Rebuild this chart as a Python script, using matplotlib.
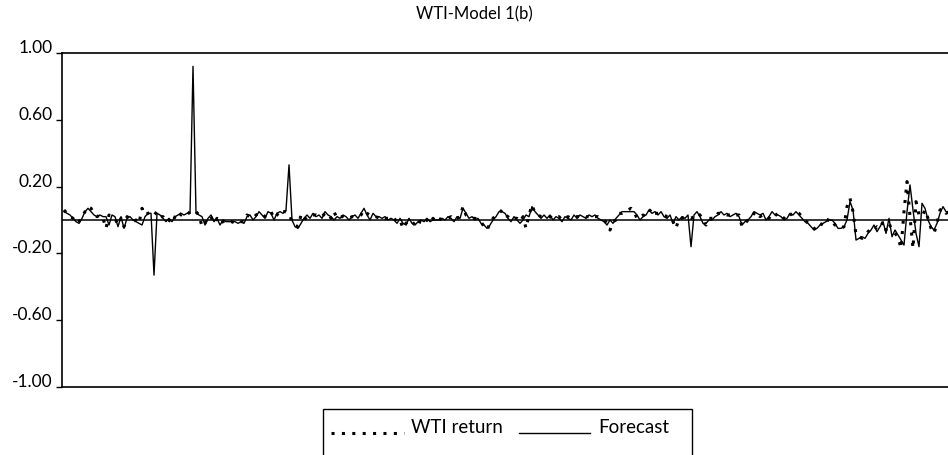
import matplotlib
matplotlib.use("Agg")
import matplotlib.pyplot as plt
from matplotlib.patches import Rectangle
from matplotlib.lines import Line2D
import numpy as np

plt.rcParams['font.family'] = ['Lato', 'DejaVu Sans']

title = "WTI-Model 1(b)"
series_names = ["WTI return", "Forecast"]
yticks = [1.00, 0.60, 0.20, -0.20, -0.60, -1.00]

# fitted values, one per period
forecast = [
    0.05, 0.04, 0.03, 0.01, -0.01, -0.02, 0.01, 0.05, 0.07, 0.05,
    0.03, 0.02, 0.03, 0.02, 0.02, -0.03, 0.03, 0.02, -0.04, 0.02,
    -0.05, 0.01, 0.02, 0.00, -0.01, -0.02, -0.03, 0.02, 0.04, 0.04,
    -0.33, 0.04, 0.03, 0.01, -0.01, 0.01, -0.01, 0.02, 0.03, 0.04,
    0.03, 0.04, 0.04, 0.92, 0.04, 0.03, 0.02, -0.03, 0.01, 0.03,
    -0.01, 0.01, -0.03, 0.00, -0.01, -0.01, -0.01, -0.01, -0.02, -0.01,
    -0.02, 0.02, 0.03, 0.00, 0.02, 0.05, 0.03, 0.01, 0.05, 0.04,
    0.00, 0.04, 0.05, 0.04, 0.06, 0.33, 0.00, -0.04, -0.05, -0.02,
    0.01, 0.03, 0.01, 0.04, 0.02, 0.03, 0.01, 0.05, 0.03, 0.02,
    0.00, 0.02, 0.01, 0.03, 0.02, 0.00, 0.02, 0.03, 0.01, 0.04,
    0.07, 0.03, 0.00, 0.04, 0.02, 0.02, 0.01, 0.02, 0.00, 0.01,
    0.00, -0.02, 0.01, -0.02, -0.03, 0.01, -0.02, -0.03, -0.01, 0.00,
    -0.01, 0.01, -0.01, 0.00, 0.00, 0.00, 0.01, 0.00, 0.02, 0.01,
    -0.01, 0.02, 0.01, 0.07, 0.04, 0.01, 0.02, 0.00, 0.01, -0.02,
    -0.03, -0.05, -0.03, 0.00, 0.02, 0.05, 0.05, 0.04, 0.01, -0.01,
    0.02, 0.00, -0.02, 0.00, 0.03, 0.02, 0.08, 0.05, 0.03, 0.01,
    0.03, 0.01, 0.03, 0.00, 0.02, 0.01, -0.01, 0.02, 0.01, 0.00,
    0.03, 0.01, 0.03, 0.02, 0.01, 0.03, 0.02, 0.03, 0.01, 0.00,
    -0.01, -0.03, 0.00, -0.02, 0.01, 0.03, 0.05, 0.05, 0.05, 0.05,
    0.05, 0.03, 0.00, 0.02, 0.03, 0.06, 0.04, 0.05, 0.03, 0.05,
    0.02, 0.01, 0.03, -0.02, 0.02, 0.00, 0.02, 0.01, 0.03, -0.16,
    0.03, 0.05, 0.02, -0.02, -0.02, 0.00, 0.00, 0.02, 0.03, 0.05,
    0.03, 0.04, 0.02, 0.03, 0.04, 0.02, -0.03, -0.01, 0.00, 0.02,
    0.05, 0.04, 0.03, 0.04, 0.00, 0.02, 0.05, 0.03, 0.03, 0.02,
    0.00, 0.01, 0.04, 0.03, 0.05, 0.03, 0.01, -0.01, -0.02, -0.04,
    -0.06, -0.05, -0.03, -0.02, -0.01, 0.00, 0.00, -0.02, -0.05, -0.05,
    -0.04, 0.00, 0.11, 0.06, -0.12, -0.11, -0.10, -0.11, -0.08, -0.06,
    -0.03, -0.07, -0.04, -0.01, -0.08, 0.01, -0.10, -0.06, -0.09, -0.12,
    -0.15, 0.05, 0.21, 0.06, -0.08, -0.16, 0.10, 0.07, 0.00, -0.04,
    -0.06, -0.02, 0.04, 0.08, 0.05, 0.04,
]

wti_return = [
    0.06, 0.04, 0.02, 0.01, -0.02, -0.01, 0.02, 0.05, 0.08, 0.07,
    0.04, 0.02, 0.03, 0.01, -0.05, 0.03, 0.02, 0.01, -0.03, 0.01,
    -0.04, 0.02, 0.01, -0.01, 0.00, -0.02, 0.07, 0.03, 0.04, 0.05,
    0.03, 0.05, 0.02, 0.02, -0.01, 0.00, -0.02, 0.02, 0.05, 0.03,
    0.04, 0.03, 0.05, 0.04, 0.05, 0.03, -0.04, -0.02, 0.02, 0.02,
    -0.02, 0.01, -0.02, -0.01, 0.00, -0.01, -0.01, -0.02, -0.01, -0.01,
    -0.01, 0.03, 0.02, 0.01, 0.03, 0.04, 0.04, 0.02, 0.04, 0.05,
    0.01, 0.03, 0.06, 0.05, 0.05, 0.04, -0.01, -0.03, -0.04, 0.03,
    0.00, 0.02, 0.02, 0.03, 0.03, 0.02, 0.02, 0.04, 0.04, 0.01,
    0.05, 0.01, 0.02, 0.02, 0.01, 0.01, 0.02, 0.02, 0.02, 0.03,
    0.06, 0.04, 0.03, 0.03, 0.02, 0.01, 0.02, 0.01, 0.01, 0.00,
    0.01, -0.01, 0.00, -0.05, -0.02, 0.00, -0.01, -0.03, -0.04, 0.01,
    0.00, 0.00, -0.02, 0.01, -0.01, 0.01, 0.00, 0.01, 0.01, 0.02,
    0.00, 0.01, 0.02, 0.08, 0.03, 0.02, 0.01, 0.01, 0.00, -0.01,
    -0.04, -0.06, -0.02, 0.01, 0.03, 0.04, 0.06, 0.03, 0.02, 0.00,
    0.01, 0.01, -0.01, 0.02, -0.05, 0.03, 0.09, 0.04, 0.03, 0.02,
    0.02, 0.02, 0.02, 0.01, 0.01, 0.02, 0.00, 0.01, 0.02, 0.01,
    0.02, 0.02, 0.02, 0.03, 0.02, 0.02, 0.03, 0.02, 0.02, 0.01,
    0.00, -0.02, -0.06, -0.01, 0.00, 0.04, 0.04, 0.05, 0.06, 0.07,
    0.05, 0.01, 0.01, 0.03, 0.02, 0.05, 0.07, 0.04, 0.04, 0.04,
    0.03, 0.02, 0.02, -0.01, -0.05, 0.01, 0.01, 0.02, 0.02, 0.01,
    0.02, 0.04, 0.03, -0.01, -0.03, 0.01, 0.01, 0.01, 0.04, 0.04,
    0.04, 0.03, 0.03, 0.02, 0.03, 0.03, -0.04, -0.02, 0.00, 0.01,
    0.04, 0.05, 0.02, 0.03, 0.01, 0.01, 0.04, 0.04, 0.02, 0.03,
    0.01, 0.00, 0.03, 0.04, 0.05, 0.04, 0.02, 0.00, -0.02, -0.03,
    -0.05, -0.06, -0.04, -0.01, -0.02, 0.01, -0.01, -0.03, -0.04, -0.05,
    -0.04, 0.08, 0.13, 0.05, -0.09, -0.10, -0.11, -0.09, -0.07, -0.05,
    -0.06, -0.04, -0.05, -0.01, -0.06, -0.02, -0.06, -0.08, -0.10, -0.17,
    0.05, 0.23, 0.02, -0.17, 0.11, 0.03, 0.02, 0.06, 0.01, -0.05,
    -0.08, -0.02, 0.06, 0.07, 0.04, 0.05,
]

W, H = 948, 455
fig = plt.figure(figsize=(W / 100, H / 100), dpi=100)

def fx(px):
    return px / W

def fy(py):
    return 1 - py / H

# plot box: x 62..948, y 53..387 px
ax = fig.add_axes([fx(62), fy(387), fx(948) - fx(62), fy(53) - fy(387)])

dots = (0, (1, 2.4))
t = np.arange(len(forecast))
ax.plot(t, wti_return, color='black', lw=2.2, linestyle=dots)
ax.plot(t, forecast, color='black', lw=1.0)
ax.axhline(0, color='black', lw=1.1)

ax.set_xlim(-0.67, -0.67 + 886 / 3)
ax.set_ylim(-1.0, 1.0)
ax.set_xticks([])
ax.set_yticks(yticks)
ax.set_yticklabels(["%.2f" % v for v in yticks])
ax.tick_params(axis='y', direction='out', length=4, width=1, pad=3, labelsize=12.5)
for lab in ax.get_yticklabels():
    lab.set_va('baseline')

for s in ['left', 'top', 'bottom']:
    ax.spines[s].set_linewidth(1.2)
ax.spines['right'].set_visible(False)

fig.text(0.5, fy(14), title, ha='center', va='center', fontsize=12)

# legend box below the plot
fig.patches.append(Rectangle((fx(323), fy(465)), fx(692) - fx(323), fy(409) - fy(465),
                             transform=fig.transFigure, fill=False, edgecolor='black', lw=1.0))
fig.lines.append(Line2D([fx(331), fx(404)], [fy(433), fy(433)], transform=fig.transFigure,
                        color='black', lw=2.2, linestyle=dots))
fig.text(fx(411), fy(433), series_names[0], ha='left', va='baseline', fontsize=13.5)
fig.lines.append(Line2D([fx(519), fx(590)], [fy(433), fy(433)], transform=fig.transFigure,
                        color='black', lw=1.0))
fig.text(fx(598), fy(433), series_names[1], ha='left', va='baseline', fontsize=13.5)

fig.savefig("out.png", dpi=100)
